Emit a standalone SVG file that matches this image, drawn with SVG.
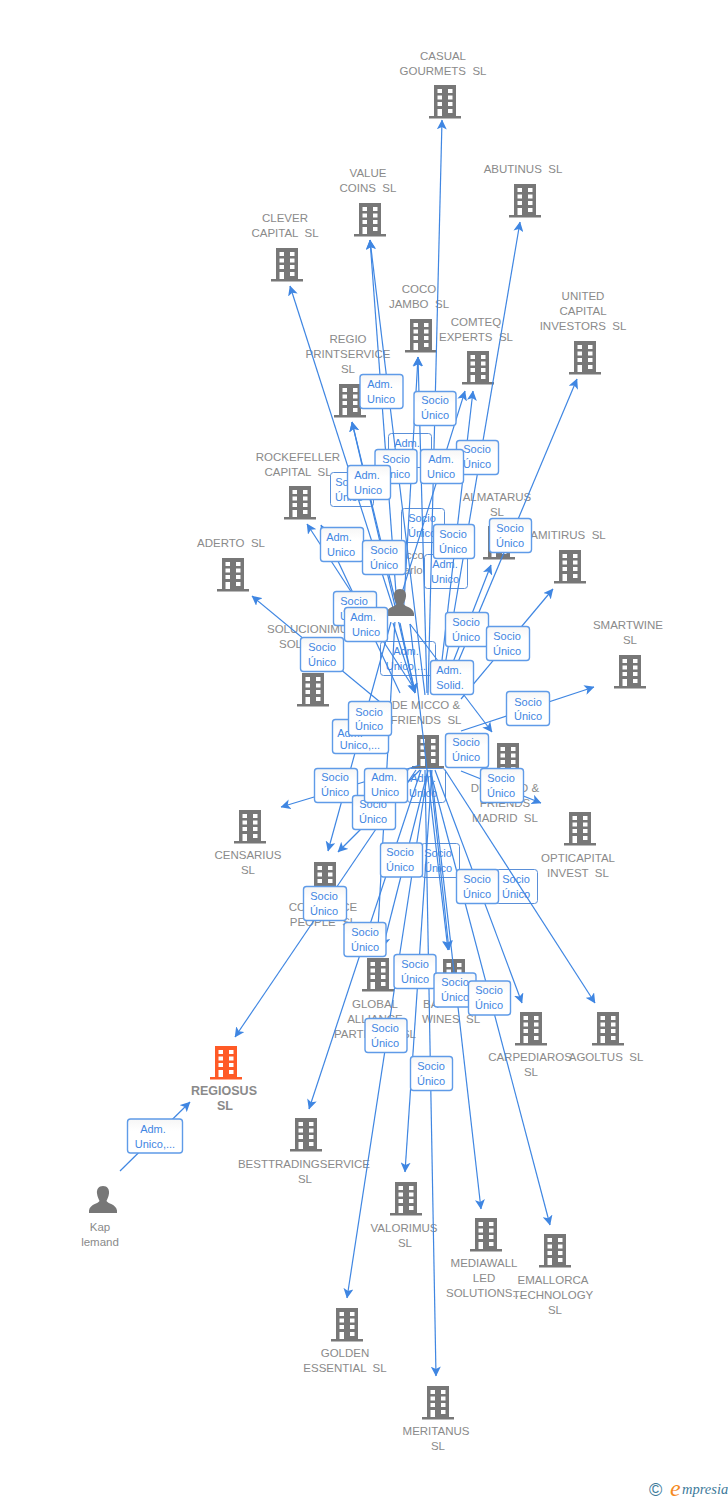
<svg xmlns="http://www.w3.org/2000/svg" width="728" height="1500" viewBox="0 0 728 1500">
<style>
text{font-family:"Liberation Sans",Arial,sans-serif;white-space:pre}
.n{font-size:11.5px;fill:#8a8a8a;text-anchor:middle}
.s{text-anchor:start}
.b{font-weight:bold;font-size:12.500px}
.l{font-size:11px;fill:#3f86e2;text-anchor:middle}
.r{fill:url(#g);stroke:#5f9be8;stroke-width:1.4}
.rb{fill:#fff;stroke:#5a8fd8;stroke-width:1}
#c line{stroke:#3f86e2;stroke-width:1.2;fill:none;marker-end:url(#a)}
</style>
<defs>
<linearGradient id="g" x1="0" y1="0" x2="0" y2="1"><stop offset="0" stop-color="#f6f6f6"/><stop offset="0.35" stop-color="#fff"/><stop offset="1" stop-color="#fff"/></linearGradient>
<marker id="a" viewBox="0 0 10 10" refX="9.5" refY="5" markerWidth="10" markerHeight="10" markerUnits="userSpaceOnUse" orient="auto"><path d="M0 0L10 5L0 10L2.5 5Z" fill="#3f86e2"/></marker>
<symbol id="bd" width="32" height="34" viewBox="0 0 32 34"><path fill-rule="evenodd" d="M5 0H27V31H32V33.5H0V31H5ZM8.500 4V8H13V4ZM19 4V8H23.500V4ZM8.500 10.500V14.500H13V10.500ZM19 10.500V14.500H23.500V10.500ZM8.500 17V21H13V17ZM19 17V21H23.500V17ZM8.500 24V31H13V24ZM19 24V28H23.500V24Z"/></symbol>
<symbol id="pr" width="28" height="27" viewBox="0 0 28 27"><path d="M14 0C18.500 0 20.500 3.500 20 7.500C19.600 11 18 13.500 17.500 15C18.500 17.500 27 18 28 24.500V27H0V24.500C1 18 9.500 17.500 10.500 15C10 13.500 8.400 11 8 7.500C7.500 3.500 9.500 0 14 0Z"/></symbol>
</defs>

<g id="nodes" fill="#777">
<g id="n-casual"><use href="#bd" x="429" y="85"/><text class="n" x="443" y="60">CASUAL</text><text class="n" x="443" y="75">GOURMETS  SL</text></g>
<g id="n-abutinus"><use href="#bd" x="509" y="184"/><text class="n" x="523" y="173">ABUTINUS  SL</text></g>
<g id="n-value"><use href="#bd" x="354" y="203"/><text class="n" x="368" y="177">VALUE</text><text class="n" x="368" y="192">COINS  SL</text></g>
<g id="n-clever"><use href="#bd" x="271" y="248"/><text class="n" x="285" y="222">CLEVER</text><text class="n" x="285" y="237">CAPITAL  SL</text></g>
<g id="n-coco"><use href="#bd" x="405" y="319"/><text class="n" x="419" y="293">COCO</text><text class="n" x="419" y="308">JAMBO  SL</text></g>
<g id="n-comteq"><use href="#bd" x="462" y="351"/><text class="n" x="476" y="326">COMTEQ</text><text class="n" x="476" y="341">EXPERTS  SL</text></g>
<g id="n-united"><use href="#bd" x="569" y="341"/><text class="n" x="583" y="300">UNITED</text><text class="n" x="583" y="315">CAPITAL</text><text class="n" x="583" y="330">INVESTORS  SL</text></g>
<g id="n-regio"><use href="#bd" x="334" y="384"/><text class="n" x="348" y="343">REGIO</text><text class="n" x="348" y="358">PRINTSERVICE</text><text class="n" x="348" y="373">SL</text></g>
<g id="n-rockefeller"><use href="#bd" x="284" y="486"/><text class="n" x="298" y="461">ROCKEFELLER</text><text class="n" x="298" y="476">CAPITAL  SL</text></g>
<g id="n-almatarus"><use href="#bd" x="483" y="526"/><text class="n" x="497" y="501">ALMATARUS</text><text class="n" x="497" y="516">SL</text></g>
<g id="n-amitirus"><use href="#bd" x="554" y="550"/><text class="n" x="568" y="539">AMITIRUS  SL</text></g>
<g id="n-aderto"><use href="#bd" x="217" y="558"/><text class="n" x="231" y="547">ADERTO  SL</text></g>
<g id="n-solucionimu"><use href="#bd" x="297" y="673"/><text class="n s" x="267" y="633">SOLUCIONIMU</text><text class="n s" x="279" y="648">SOL</text></g>
<g id="n-smartwine"><use href="#bd" x="614" y="655"/><text class="n" x="628" y="629">SMARTWINE</text><text class="n" x="630" y="644">SL</text></g>
<g id="n-demicco"><use href="#bd" x="412" y="735"/><text class="n" x="426" y="709">DE MICCO &amp;</text><text class="n" x="426" y="724">FRIENDS  SL</text></g>
<g id="n-madrid"><use href="#bd" x="492" y="743"/><text class="n" x="505" y="792">DE MICCO &amp;</text><text class="n" x="505" y="807">FRIENDS</text><text class="n" x="505" y="822">MADRID  SL</text></g>
<g id="n-opticapital"><use href="#bd" x="564" y="812"/><text class="n" x="578" y="862">OPTICAPITAL</text><text class="n" x="578" y="877">INVEST  SL</text></g>
<g id="n-censarius"><use href="#bd" x="234" y="810"/><text class="n" x="248" y="859">CENSARIUS</text><text class="n" x="248" y="874">SL</text></g>
<g id="n-commerce"><use href="#bd" x="309" y="862"/><text class="n" x="323" y="911">COMMERCE</text><text class="n" x="323" y="926">PEOPLE  SL</text></g>
<g id="n-global"><use href="#bd" x="362" y="958"/><text class="n" x="375" y="1008">GLOBAL</text><text class="n" x="375" y="1023">ALLIANCE</text><text class="n" x="375" y="1038">PARTNERS  SL</text></g>
<g id="n-wines"><use href="#bd" x="438" y="959"/><text class="n s" x="423" y="1008">BA</text><text class="n" x="451" y="1023">WINES  SL</text></g>
<g id="n-carpediaros"><use href="#bd" x="515" y="1012"/><text class="n" x="530" y="1061">CARPEDIAROS</text><text class="n" x="531" y="1076">SL</text></g>
<g id="n-agoltus"><use href="#bd" x="592" y="1012"/><text class="n" x="606" y="1061">AGOLTUS  SL</text></g>
<g id="n-regiosus" fill="#ff5a26"><use href="#bd" x="210" y="1046"/><text class="n b" x="224" y="1095">REGIOSUS</text><text class="n b" x="225" y="1110">SL</text></g>
<g id="n-besttrading"><use href="#bd" x="290" y="1118"/><text class="n" x="304" y="1168">BESTTRADINGSERVICE</text><text class="n" x="305" y="1183">SL</text></g>
<g id="n-valorimus"><use href="#bd" x="390" y="1182"/><text class="n" x="404" y="1232">VALORIMUS</text><text class="n" x="405" y="1247">SL</text></g>
<g id="n-mediawall"><use href="#bd" x="470" y="1218"/><text class="n" x="484" y="1267">MEDIAWALL</text><text class="n" x="484" y="1282">LED</text><text class="n" x="484" y="1297">SOLUTIONS...</text></g>
<g id="n-emallorca"><use href="#bd" x="539" y="1234"/><text class="n" x="553" y="1284">EMALLORCA</text><text class="n" x="553" y="1299">TECHNOLOGY</text><text class="n" x="555" y="1314">SL</text></g>
<g id="n-golden"><use href="#bd" x="331" y="1308"/><text class="n" x="345" y="1357">GOLDEN</text><text class="n" x="345" y="1372">ESSENTIAL  SL</text></g>
<g id="n-meritanus"><use href="#bd" x="422" y="1386"/><text class="n" x="436" y="1435">MERITANUS</text><text class="n" x="438" y="1450">SL</text></g>
<g id="n-kap"><use href="#pr" x="89" y="1186"/><text class="n" x="100" y="1231">Kap</text><text class="n" x="100" y="1246">lemand</text></g>
<g id="n-person-name"><text class="n" x="400" y="559">De Micco</text><text class="n" x="400" y="574">De Carlo</text></g>
</g>

<g id="labels-back">
<g><rect class="rb" x="388.500" y="433.500" width="43" height="34" rx="3"/><text class="l" x="407" y="447">Adm.</text></g>
<g><rect class="rb" x="330.500" y="472.500" width="43" height="34" rx="3"/><text class="l" x="349" y="486">Socio</text><text class="l" x="349" y="501">Único</text></g>
<g><rect class="rb" x="401.500" y="508.500" width="43" height="34" rx="3"/><text class="l" x="422" y="522">Socio</text><text class="l" x="422" y="537">Único</text></g>
<g><rect class="rb" x="424.500" y="554.500" width="43" height="34" rx="3"/><text class="l" x="445" y="568">Adm.</text><text class="l" x="445" y="583">Unico</text></g>
<g><rect class="rb" x="380.500" y="641.500" width="55" height="34" rx="3"/><text class="l" x="406" y="655">Adm.</text><text class="l" x="406" y="670">Unico,...</text></g>
<g><rect class="rb" x="407.500" y="768.500" width="38" height="34" rx="3"/><text class="l" x="423" y="782">Adm.</text><text class="l" x="423" y="797">Unico</text></g>
<g><rect class="rb" x="421.500" y="843.500" width="38" height="34" rx="3"/><text class="l" x="438" y="857">Socio</text><text class="l" x="438" y="872">Único</text></g>
<g><rect class="rb" x="495.500" y="869.500" width="42" height="34" rx="3"/><text class="l" x="516" y="883">Socio</text><text class="l" x="516" y="898">Único</text></g>
</g>

<g id="c">
<line x1="428" y1="695" x2="442" y2="120"/>
<line x1="440" y1="695" x2="520" y2="222"/>
<line x1="398" y1="620" x2="370" y2="240"/>
<line x1="425" y1="695" x2="370" y2="240"/>
<line x1="397" y1="620" x2="290" y2="286"/>
<line x1="403" y1="620" x2="418" y2="357"/>
<line x1="427" y1="693" x2="418" y2="357"/>
<line x1="395" y1="615" x2="465" y2="391"/>
<line x1="438" y1="695" x2="473" y2="391"/>
<line x1="445" y1="693" x2="577" y2="379"/>
<line x1="400" y1="620" x2="352" y2="422"/>
<line x1="415" y1="692" x2="352" y2="422"/>
<line x1="415" y1="690" x2="307" y2="524"/>
<line x1="400" y1="693" x2="321" y2="525"/>
<line x1="380" y1="702" x2="252" y2="596"/>
<line x1="441" y1="693" x2="491" y2="565"/>
<line x1="461" y1="699" x2="553" y2="589"/>
<line x1="461" y1="731" x2="594" y2="687"/>
<line x1="410" y1="624" x2="492" y2="732"/>
<line x1="461" y1="771" x2="541" y2="803"/>
<line x1="400" y1="623" x2="415" y2="693"/>
<line x1="393" y1="623" x2="415" y2="693"/>
<line x1="420" y1="765" x2="281" y2="807"/>
<line x1="391" y1="622" x2="328" y2="851"/>
<line x1="420" y1="770" x2="338" y2="852"/>
<line x1="395" y1="620" x2="377" y2="947"/>
<line x1="428" y1="770" x2="383" y2="947"/>
<line x1="410" y1="624" x2="448" y2="950"/>
<line x1="430" y1="770" x2="449" y2="950"/>
<line x1="435" y1="770" x2="522" y2="1003"/>
<line x1="445" y1="770" x2="595" y2="1003"/>
<line x1="416" y1="770" x2="235" y2="1037"/>
<line x1="421" y1="770" x2="309" y2="1109"/>
<line x1="432" y1="770" x2="405" y2="1172"/>
<line x1="431" y1="770" x2="481" y2="1209"/>
<line x1="430" y1="770" x2="550" y2="1225"/>
<line x1="428" y1="770" x2="347" y2="1298"/>
<line x1="425" y1="770" x2="436" y2="1376"/>
<line x1="120" y1="1171" x2="190" y2="1102"/>
</g>

<g id="n-person" fill="#777"><path fill="#fff" d="M386 616h28v6h-28z"/><use href="#pr" x="386" y="589"/></g>

<g id="labels-front">
<g><rect class="r" x="360" y="374.500" width="43" height="34" rx="3"/><text class="l" x="380" y="388">Adm.</text><text class="l" x="381" y="403">Unico</text></g>
<g><rect class="r" x="414" y="391.500" width="42" height="34" rx="3"/><text class="l" x="435" y="404">Socio</text><text class="l" x="435" y="419">Único</text></g>
<g><rect class="r" x="375" y="449.500" width="42" height="34" rx="3"/><text class="l" x="396" y="463">Socio</text><text class="l" x="396" y="478">Único</text></g>
<g><rect class="r" x="456.500" y="440.500" width="42" height="34" rx="3"/><text class="l" x="477" y="453">Socio</text><text class="l" x="477" y="468">Único</text></g>
<g><rect class="r" x="420.500" y="449.500" width="43" height="34" rx="3"/><text class="l" x="441" y="463">Adm.</text><text class="l" x="441" y="478">Unico</text></g>
<g><rect class="r" x="347.500" y="465.500" width="43" height="34" rx="3"/><text class="l" x="367" y="479">Adm.</text><text class="l" x="368" y="494">Unico</text></g>
<g><rect class="r" x="433.500" y="524.500" width="41" height="34" rx="3"/><text class="l" x="453" y="538">Socio</text><text class="l" x="453" y="553">Único</text></g>
<g><rect class="r" x="489.500" y="518.500" width="42" height="34" rx="3"/><text class="l" x="510" y="532">Socio</text><text class="l" x="510" y="547">Único</text></g>
<g><rect class="r" x="320.500" y="527.500" width="43" height="34" rx="3"/><text class="l" x="339" y="541">Adm.</text><text class="l" x="341" y="556">Unico</text></g>
<g><rect class="r" x="362.500" y="540.500" width="43" height="34" rx="3"/><text class="l" x="384" y="554">Socio</text><text class="l" x="384" y="569">Único</text></g>
<g><rect class="r" x="333.500" y="591.500" width="43" height="34" rx="3"/><text class="l" x="354" y="605">Socio</text><text class="l" x="354" y="620">Único</text></g>
<g><rect class="r" x="344.500" y="607.500" width="43" height="34" rx="3"/><text class="l" x="363" y="621">Adm.</text><text class="l" x="366" y="636">Unico</text></g>
<g><rect class="r" x="300.500" y="637.500" width="43" height="34" rx="3"/><text class="l" x="322" y="651">Socio</text><text class="l" x="322" y="666">Único</text></g>
<g><rect class="r" x="445.500" y="612.500" width="43" height="34" rx="3"/><text class="l" x="466" y="626">Socio</text><text class="l" x="466" y="641">Único</text></g>
<g><rect class="r" x="486.500" y="626.500" width="43" height="34" rx="3"/><text class="l" x="507" y="640">Socio</text><text class="l" x="507" y="655">Único</text></g>
<g><rect class="r" x="430.500" y="660.500" width="43" height="34" rx="3"/><text class="l" x="449" y="674">Adm.</text><text class="l" x="450" y="689">Solid.</text></g>
<g><rect class="r" x="506.500" y="691.500" width="43" height="34" rx="3"/><text class="l" x="528" y="706">Socio</text><text class="l" x="528" y="720">Único</text></g>
<g><rect class="r" x="332.500" y="719.500" width="56" height="34" rx="3"/><text class="l" x="350" y="737">Adm.</text><text class="l" x="360" y="749">Unico,...</text></g>
<g><rect class="r" x="348.500" y="701.500" width="43" height="34" rx="3"/><text class="l" x="369" y="716">Socio</text><text class="l" x="369" y="730">Único</text></g>
<g><rect class="r" x="445.500" y="733.500" width="43" height="34" rx="3"/><text class="l" x="466" y="746">Socio</text><text class="l" x="466" y="761">Único</text></g>
<g><rect class="r" x="314.500" y="768.500" width="43" height="34" rx="3"/><text class="l" x="335" y="781">Socio</text><text class="l" x="335" y="796">Único</text></g>
<g><rect class="r" x="352.500" y="795.500" width="43" height="34" rx="3"/><text class="l" x="373" y="808">Socio</text><text class="l" x="373" y="823">Único</text></g>
<g><rect class="r" x="364.500" y="768.500" width="43" height="34" rx="3"/><text class="l" x="384" y="781">Adm.</text><text class="l" x="385" y="796">Unico</text></g>
<g><rect class="r" x="480.500" y="768.500" width="43" height="34" rx="3"/><text class="l" x="501" y="782">Socio</text><text class="l" x="501" y="797">Único</text></g>
<g><rect class="r" x="380.500" y="843" width="42" height="34" rx="3"/><text class="l" x="400" y="856">Socio</text><text class="l" x="400" y="871">Único</text></g>
<g><rect class="r" x="456.500" y="869.500" width="42" height="34" rx="3"/><text class="l" x="477" y="883">Socio</text><text class="l" x="477" y="898">Único</text></g>
<g><rect class="r" x="303.500" y="886.500" width="43" height="34" rx="3"/><text class="l" x="324" y="900">Socio</text><text class="l" x="324" y="915">Único</text></g>
<g><rect class="r" x="344" y="922.500" width="42" height="34" rx="3"/><text class="l" x="365" y="936">Socio</text><text class="l" x="365" y="951">Único</text></g>
<g><rect class="r" x="394" y="954.500" width="42" height="34" rx="3"/><text class="l" x="415" y="968">Socio</text><text class="l" x="415" y="983">Único</text></g>
<g><rect class="r" x="434" y="973" width="42" height="34" rx="3"/><text class="l" x="455" y="986">Socio</text><text class="l" x="455" y="1001">Único</text></g>
<g><rect class="r" x="468.500" y="981" width="42" height="34" rx="3"/><text class="l" x="489" y="994">Socio</text><text class="l" x="489" y="1009">Único</text></g>
<g><rect class="r" x="365" y="1018.500" width="42" height="34" rx="3"/><text class="l" x="385" y="1032">Socio</text><text class="l" x="385" y="1047">Único</text></g>
<g><rect class="r" x="410.500" y="1056.500" width="42" height="34" rx="3"/><text class="l" x="431" y="1070">Socio</text><text class="l" x="431" y="1085">Único</text></g>
<g><rect class="r" x="127.500" y="1119" width="55" height="34" rx="3"/><text class="l" x="153" y="1133">Adm.</text><text class="l" x="155" y="1148">Unico,...</text></g>
</g>

<g id="logo">
<text x="649" y="1496" font-size="18" fill="#3d7a9a">©</text>
<text x="670" y="1496" font-size="24" fill="#f58a1f" font-style="italic" style="font-family:'Liberation Serif',serif">e</text>
<text x="682" y="1494" font-size="14.500" fill="#3d7a9a" font-style="italic" style="font-family:'Liberation Serif',serif">mpresia</text>
</g>
</svg>
